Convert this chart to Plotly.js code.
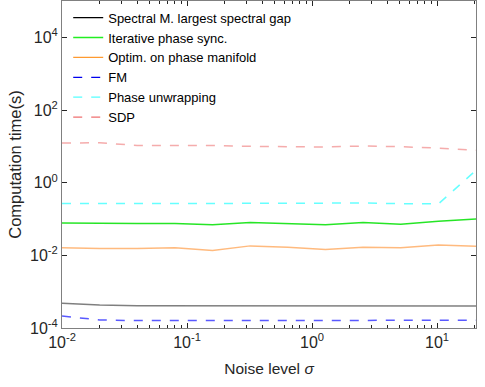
<!DOCTYPE html>
<html><head><meta charset="utf-8">
<script src="https://cdn.plot.ly/plotly-3.0.1.min.js"></script>
<style>html,body{margin:0;padding:0;background:#fff}#chart{width:485px;height:387px}</style>
</head><body><div id="chart"></div>
<script>
const sigma = [0.01, 0.02, 0.04, 0.08, 0.16, 0.32, 0.64, 1.28, 2.56, 5.12, 10.24, 20.48];
const spectral = [4.8e-4, 4.3e-4, 4.1e-4, 4.1e-4, 4.1e-4, 4.1e-4, 4.15e-4, 4.05e-4, 4.1e-4, 4.1e-4, 4.05e-4, 4.05e-4];
const iterative = [0.077, 0.075, 0.075, 0.075, 0.069, 0.080, 0.074, 0.070, 0.080, 0.072, 0.087, 0.100];
const optim = [0.0161, 0.0153, 0.0155, 0.0161, 0.0136, 0.0182, 0.0166, 0.0145, 0.0167, 0.0161, 0.0194, 0.0178];
const fm = [2.14e-4, 1.66e-4, 1.6e-4, 1.6e-4, 1.6e-4, 1.62e-4, 1.63e-4, 1.63e-4, 1.63e-4, 1.63e-4, 1.63e-4, 1.63e-4];
const unwrap = [0.267, 0.267, 0.26, 0.255, 0.267, 0.27, 0.275, 0.275, 0.275, 0.265, 0.26, 2.2];
const sdp = [12.3, 12.6, 10.5, 10.5, 10.5, 10.0, 10.0, 9.6, 10.2, 9.8, 8.9, 7.8];
const names = ["Spectral M. largest spectral gap", "Iterative phase sync.", "Optim. on phase manifold", "FM", "Phase unwrapping", "SDP"];
const xTickVals = [0.01, 0.1, 1, 10];
const xTickText = ["10<sup>-2</sup>", "10<sup>-1</sup>", "10<sup>0</sup>", "10<sup>1</sup>"];
const yTickVals = [1e-4, 1e-2, 1, 1e2, 1e4];
const yTickText = ["10<sup>-4</sup>", "10<sup>-2</sup>", "10<sup>0</sup>", "10<sup>2</sup>", "10<sup>4</sup>"];

const series = [spectral, iterative, optim, fm, unwrap, sdp];
const lineCols = ["rgba(0,0,0,0.5)", "rgba(0,225,0,0.85)", "rgba(255,140,40,0.6)", "rgba(0,0,255,0.65)", "rgba(0,255,255,0.6)", "rgba(235,90,90,0.5)"];
const legCols = ["#000000", "#22ee22", "#ff9a30", "#0000ee", "#55ffff", "#f07070"];
const dashes = ["solid", "solid", "solid", "dash", "dash", "dash"];

const traces = [];
series.forEach((s, i) => {
  traces.push({x: sigma, y: s, type: 'scatter', mode: 'lines', showlegend: false,
    line: {color: lineCols[i], width: 1.5, dash: dashes[i]}});
});
series.forEach((s, i) => {
  traces.push({x: [null], y: [null], type: 'scatter', mode: 'lines', name: names[i],
    line: {color: legCols[i], width: 1.3, dash: dashes[i]}});
});

const FAM = 'Liberation Sans, Arial, sans-serif';
const axFont = {family: FAM, size: 16, color: '#262626'};
const layout = {
  width: 485, height: 387,
  margin: {l: 62, r: 9, t: 1, b: 59},
  paper_bgcolor: '#fff', plot_bgcolor: '#fff',
  font: axFont,
  showlegend: true,
  legend: {x: 0.015, y: 0.995, xanchor: 'left', yanchor: 'top', bgcolor: 'rgba(255,255,255,0)',
    font: {family: FAM, size: 13, color: '#000'},
    tracegroupgap: 0, itemwidth: 30},
  xaxis: {type: 'log', range: [-2, Math.log10(20.48)], tickmode: 'array', tickvals: xTickVals, ticktext: xTickText,
    showgrid: false, zeroline: false, showline: true, linecolor: '#808080', linewidth: 1, mirror: 'ticks',
    ticks: 'inside', ticklen: 5, tickcolor: '#262626',
    minor: {ticks: 'inside', ticklen: 3, dtick: 'D1', tickcolor: '#262626', showgrid: false},
    tickfont: axFont,
    title: {text: 'Noise level <i>σ</i>', font: {family: FAM, size: 15.5, color: '#262626'}, standoff: 12}},
  yaxis: {type: 'log', range: [-4, 5], tickmode: 'array', tickvals: yTickVals, ticktext: yTickText,
    showgrid: false, zeroline: false, showline: true, linecolor: '#808080', linewidth: 1, mirror: 'ticks',
    ticks: 'inside', ticklen: 5, tickcolor: '#262626',
    tickfont: axFont,
    title: {text: 'Computation time(s)', font: {family: FAM, size: 16.5, color: '#262626'}, standoff: 4}}
};
Plotly.newPlot('chart', traces, layout, {staticPlot: true, displayModeBar: false});
</script></body></html>
